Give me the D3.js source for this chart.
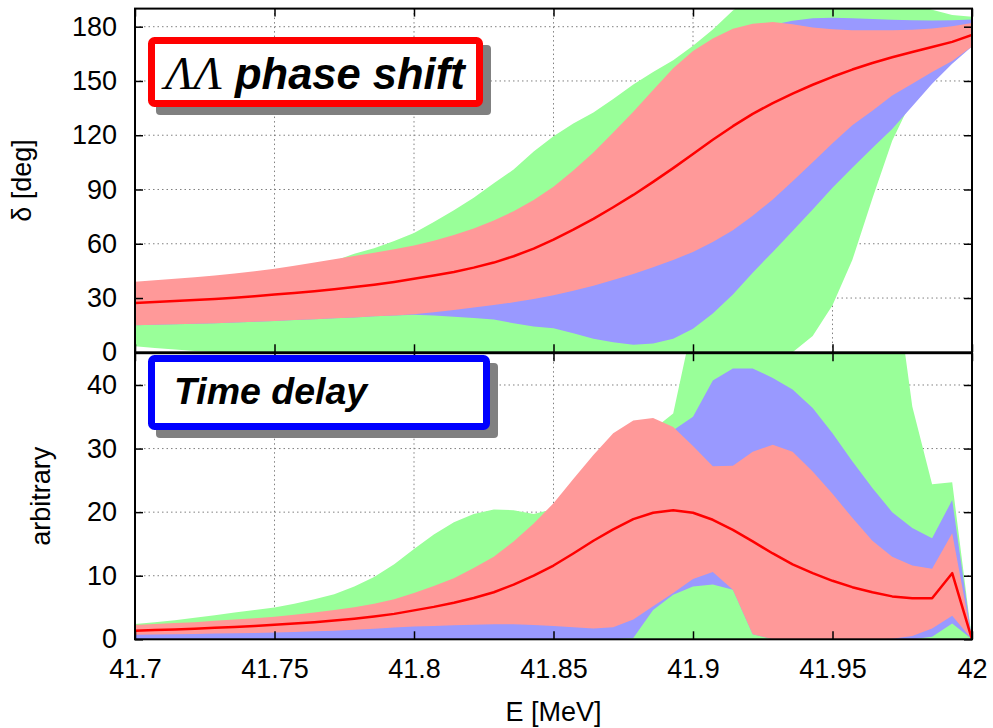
<!DOCTYPE html>
<html>
<head>
<meta charset="utf-8">
<script src="https://cdn.jsdelivr.net/npm/d3@7"></script>
<style>
  body { margin: 0; background: #fff; }
  svg text { font-family: "Liberation Sans", Arial, Helvetica, sans-serif; }
</style>
</head>
<body>
<svg id="chart" width="993" height="728"></svg>
<script>
// Energy grid [MeV]
const energy = [41.7, 41.7071, 41.7143, 41.7214, 41.7286, 41.7357, 41.7429, 41.75, 41.7571, 41.7643,
  41.7714, 41.7786, 41.7857, 41.7929, 41.8, 41.8071, 41.8143, 41.8214, 41.8286, 41.8357,
  41.8429, 41.85, 41.8571, 41.8643, 41.8714, 41.8786, 41.8857, 41.8929, 41.9, 41.9071,
  41.9143, 41.9214, 41.9286, 41.9357, 41.9429, 41.95, 41.9571, 41.9643, 41.9714, 41.9786,
  41.9857, 41.9929, 42.0];

// ΛΛ phase shift [deg]: central value and three uncertainty bands
const phaseMid = [27.3, 27.8, 28.3, 28.9, 29.5, 30.2, 31.0, 31.9, 32.8, 33.8,
  34.9, 36.1, 37.4, 38.9, 40.6, 42.4, 44.4, 46.8, 49.6, 53.1,
  57.3, 62.3, 67.8, 73.8, 80.2, 87.0, 94.2, 101.8, 109.6, 117.5,
  125.0, 131.8, 137.8, 143.0, 147.9, 152.3, 156.3, 159.9, 163.1, 166.0,
  168.8, 171.6, 175.4];
const phaseRedLo = [15.0, 15.2, 15.5, 15.8, 16.1, 16.5, 16.9, 17.3, 17.8, 18.3,
  18.8, 19.3, 19.9, 20.4, 21.0, 22.2, 23.4, 24.7, 26.1, 27.6,
  29.4, 31.6, 34.0, 36.8, 40.0, 43.3, 47.0, 51.0, 55.5, 61.0,
  67.5, 75.5, 84.5, 94.5, 105.0, 115.5, 125.5, 133.5, 142.0, 148.5,
  155.0, 161.0, 169.0];
const phaseRedHi = [39.0, 39.8, 40.6, 41.5, 42.5, 43.6, 44.8, 46.2, 47.8, 49.6,
  51.5, 53.3, 55.1, 57.0, 59.0, 61.6, 64.8, 68.5, 72.8, 78.0,
  84.2, 91.5, 100.5, 110.5, 121.5, 133.0, 145.0, 157.0, 166.5, 173.5,
  178.8, 181.6, 182.6, 181.3, 179.6, 178.6, 178.1, 178.0, 178.0, 178.3,
  179.0, 180.3, 182.0];
const phaseBlueLo = [15.0, 15.2, 15.5, 15.8, 16.1, 16.5, 16.9, 17.3, 17.8, 18.3,
  18.8, 19.3, 19.9, 20.4, 20.8, 20.3, 19.7, 19.0, 18.1, 16.1,
  14.2, 13.3, 10.6, 7.5, 5.5, 4.2, 4.8, 7.5, 13.0, 21.5,
  32.0, 44.0, 55.5, 67.0, 79.0, 91.0, 102.0, 113.0, 123.5, 136.0,
  148.5, 159.5, 169.0];
const phaseBlueHi = [37.5, 38.3, 39.1, 40.0, 41.0, 42.1, 43.3, 44.7, 46.3, 48.1,
  50.0, 51.8, 53.6, 55.5, 57.5, 60.1, 63.3, 67.0, 71.3, 76.5,
  82.7, 90.0, 99.0, 109.0, 120.0, 131.5, 143.5, 155.5, 165.0, 172.0,
  177.3, 180.1, 181.1, 183.3, 184.6, 185.0, 184.7, 184.2, 183.8, 183.5,
  183.4, 183.6, 184.0];
const phaseGreenLo = [3.3, 2.4, 1.5, 0.7, 0.1, 0, 0, 0, 0, 0,
  0, 0, 0, 0, 0, 0, 0, 0, 0, 0,
  0, 0, 0, 0, 0, 0, 0, 0, 0, 0,
  0, 0, 0, 0, 9.0, 26.0, 51.0, 85.0, 117.0, 140.0,
  155.0, 164.5, 169.0];
const phaseGreenHi = [38.0, 38.8, 39.6, 40.5, 41.5, 42.6, 43.8, 45.2, 46.8, 48.6,
  50.5, 54.5, 57.5, 61.5, 66.0, 72.0, 78.5, 85.5, 93.5, 101.0,
  111.0, 119.5, 126.5, 132.5, 140.0, 148.0, 155.0, 161.5, 169.5, 178.5,
  189.0, 196.0, 200.0, 202.0, 203.0, 203.0, 202.0, 200.0, 197.0, 193.0,
  189.3, 186.5, 185.5];

// Time delay [arbitrary units]: central value and three uncertainty bands
const delayMid = [1.35, 1.45, 1.55, 1.65, 1.8, 1.95, 2.1, 2.3, 2.5, 2.7,
  2.95, 3.25, 3.6, 4.0, 4.55, 5.1, 5.75, 6.5, 7.4, 8.6,
  10.0, 11.6, 13.5, 15.5, 17.3, 18.9, 19.9, 20.3, 19.9, 18.8,
  17.2, 15.4, 13.5, 11.8, 10.4, 9.2, 8.2, 7.4, 6.75, 6.45,
  6.45, 10.4, 0];
const delayRedLo = [0.7, 0.75, 0.8, 0.85, 0.9, 0.95, 1.0, 1.05, 1.15, 1.25,
  1.35, 1.5, 1.65, 1.85, 2.0, 2.1, 2.2, 2.3, 2.35, 2.35,
  2.25, 2.1, 1.9, 1.7, 1.9, 3.1, 5.2, 7.3, 9.5, 10.6,
  7.8, 0.8, 0, 0, 0, 0, 0, 0, 0.1, 0.5,
  1.7, 3.7, 0];
const delayRedHi = [2.25, 2.4, 2.55, 2.7, 2.9, 3.1, 3.3, 3.55, 3.85, 4.2,
  4.6, 5.05, 5.6, 6.3, 7.3, 8.4, 9.6, 11.2, 13.0, 15.4,
  18.2, 21.4, 25.2, 29.0, 32.4, 34.4, 34.8, 33.4, 30.4, 27.2,
  27.3, 29.5, 30.6, 29.5, 26.4, 22.9, 19.1, 15.5, 13.0, 11.6,
  11.1, 16.7, 0];
const delayBlueLo = [0, 0, 0, 0, 0, 0, 0, 0, 0, 0,
  0, 0, 0, 0, 0, 0, 0, 0, 0, 0,
  0, 0, 0, 0, 0, 0.2, 4.6, 7.0, 8.3, 8.6,
  7.8, 0.8, 0, 0, 0, 0, 0, 0, 0, 0,
  0.4, 2.5, 0];
const delayBlueHi = [1.9, 2.0, 2.1, 2.2, 2.4, 2.6, 2.8, 3.0, 3.3, 3.6,
  4.0, 4.4, 4.9, 5.5, 6.4, 7.4, 8.5, 10.0, 11.7, 14.0,
  16.7, 19.8, 23.5, 27.2, 30.5, 32.5, 33.0, 32.9, 35.0, 40.7,
  42.6, 42.6, 41.1, 39.3, 36.4, 32.4, 28.0, 23.8, 20.0, 17.5,
  15.9, 21.9, 0];
const delayGreenLo = [0, 0, 0, 0, 0, 0, 0, 0, 0, 0,
  0, 0, 0, 0, 0, 0, 0, 0, 0, 0,
  0, 0, 0, 0, 0, 0, 0, 0, 0, 0,
  0, 0, 0, 0, 0, 0, 0, 0, 0, 0,
  0, 0, 0];
const delayGreenHi = [2.4, 2.7, 3.0, 3.4, 3.8, 4.2, 4.6, 5.0, 5.6, 6.3,
  7.1, 8.3, 9.8, 11.8, 14.2, 16.5, 18.4, 19.7, 20.4, 20.3,
  19.7, 20.5, 23.0, 26.5, 30.0, 33.0, 33.0, 35.5, 50.0, 56.0,
  62.0, 66.0, 68.0, 68.0, 67.0, 66.0, 65.0, 63.0, 60.0, 36.6,
  24.4, 24.7, 0];

// Tick values and labels
const xTicks = [41.7, 41.75, 41.8, 41.85, 41.9, 41.95, 42];
const xTickLabels = ["41.7", "41.75", "41.8", "41.85", "41.9", "41.95", "42"];
const phaseTicks = [0, 30, 60, 90, 120, 150, 180];
const delayTicks = [0, 10, 20, 30, 40];

const COLORS = { green: "#99ff99", blue: "#9999ff", red: "#ff9999", line: "#ff0000" };

const svg = d3.select("#chart");
const x = d3.scaleLinear().domain([41.7, 42]).range([135, 972]);

const panels = [
  { id: "phase", y: d3.scaleLinear().domain([0, 190]).range([352.3, 8.6]),
    ticks: phaseTicks, mid: phaseMid,
    bands: [[phaseGreenLo, phaseGreenHi, COLORS.green], [phaseBlueLo, phaseBlueHi, COLORS.blue], [phaseRedLo, phaseRedHi, COLORS.red]],
    title: "δ [deg]", titleX: 31 },
  { id: "delay", y: d3.scaleLinear().domain([0, 45]).range([639.3, 353.2]),
    ticks: delayTicks, mid: delayMid,
    bands: [[delayGreenLo, delayGreenHi, COLORS.green], [delayBlueLo, delayBlueHi, COLORS.blue], [delayRedLo, delayRedHi, COLORS.red]],
    title: "arbitrary", titleX: 50 }
];

const FONT = 27;
const idx = d3.range(energy.length);

panels.forEach((p, pi) => {
  const y = p.y;
  const top = y.range()[1], bottom = y.range()[0];
  const left = x.range()[0], right = x.range()[1];
  const g = svg.append("g");

  svg.append("clipPath").attr("id", "clip-" + p.id)
    .append("rect").attr("x", left).attr("y", top).attr("width", right - left).attr("height", bottom - top);

  // dotted grid
  const grid = g.append("g").attr("stroke", "#808080").attr("stroke-width", 1).attr("stroke-dasharray", "1.5,3");
  grid.selectAll("line.h").data(p.ticks.filter(t => t > y.domain()[0] && t < y.domain()[1])).join("line")
    .attr("x1", left).attr("x2", right).attr("y1", d => y(d)).attr("y2", d => y(d));
  grid.selectAll("line.v").data(xTicks.slice(1, -1)).join("line")
    .attr("x1", d => x(d)).attr("x2", d => x(d)).attr("y1", top).attr("y2", bottom);

  // uncertainty bands
  const plot = g.append("g").attr("clip-path", "url(#clip-" + p.id + ")");
  p.bands.forEach(([lo, hi, color]) => {
    const area = d3.area().x(i => x(energy[i])).y0(i => y(lo[i])).y1(i => y(hi[i]));
    plot.append("path").attr("d", area(idx)).attr("fill", color);
  });
  // central curve
  const line = d3.line().x(i => x(energy[i])).y(i => y(p.mid[i]));
  plot.append("path").attr("d", line(idx)).attr("fill", "none")
    .attr("stroke", COLORS.line).attr("stroke-width", 2.5).attr("stroke-linejoin", "round");

  // axes with inward ticks
  const styleAxis = sel => {
    sel.select(".domain").remove();
    sel.selectAll(".tick line").attr("stroke", "#000").attr("stroke-width", 1.5);
    sel.selectAll(".tick text").attr("fill", "#000").style("font-size", FONT + "px");
  };
  g.append("g").attr("transform", `translate(${left},0)`)
    .call(d3.axisLeft(y).tickValues(p.ticks).tickSize(-8).tickPadding(18).tickFormat(d3.format("d")))
    .call(styleAxis);
  g.append("g").attr("transform", `translate(${right},0)`)
    .call(d3.axisRight(y).tickValues(p.ticks).tickSize(-8).tickFormat(""))
    .call(styleAxis);
  g.append("g").attr("transform", `translate(0,${top})`)
    .call(d3.axisTop(x).tickValues(xTicks).tickSize(-8).tickFormat(""))
    .call(styleAxis);
  const isLast = pi === panels.length - 1;
  g.append("g").attr("transform", `translate(0,${bottom})`)
    .call(d3.axisBottom(x).tickValues(xTicks).tickSize(-8).tickPadding(20)
      .tickFormat(isLast ? ((d, i) => xTickLabels[i]) : ""))
    .call(styleAxis);

  // frame
  g.append("rect").attr("x", left).attr("y", top).attr("width", right - left).attr("height", bottom - top)
    .attr("fill", "none").attr("stroke", "#000").attr("stroke-width", 2);

  // y-axis title
  g.append("text")
    .attr("transform", `translate(${p.titleX},${(top + bottom) / 2}) rotate(-90)`)
    .attr("text-anchor", "middle").style("font-size", FONT + "px").text(p.title);
});

// x-axis title
svg.append("text").attr("x", (x.range()[0] + x.range()[1]) / 2).attr("y", 721)
  .attr("text-anchor", "middle").style("font-size", FONT + "px").text("E [MeV]");

// labelled boxes with drop shadow
function labelBox(x0, y0, x1, y1, color) {
  const sw = 7;
  svg.append("rect").attr("x", x0 + 8).attr("y", y0 + 8).attr("width", x1 - x0).attr("height", y1 - y0)
    .attr("rx", 4).attr("fill", "#808080");
  svg.append("rect").attr("x", x0 + sw / 2).attr("y", y0 + sw / 2)
    .attr("width", x1 - x0 - sw).attr("height", y1 - y0 - sw).attr("rx", 3)
    .attr("fill", "#fff").attr("stroke", color).attr("stroke-width", sw);
}

labelBox(148, 37, 483, 107, "#ff0000");
svg.append("text").attr("x", 165).attr("y", 89)
  .style("font-family", '"Liberation Serif", "Times New Roman", serif')
  .style("font-style", "italic").style("font-size", "47px").text("ΛΛ");
svg.append("text").attr("x", 235).attr("y", 89)
  .style("font-style", "italic").style("font-weight", "bold").style("font-size", "43.5px").text("phase shift");

labelBox(148, 355, 490, 430, "#0000ff");
svg.append("text").attr("x", 174).attr("y", 404)
  .style("font-style", "italic").style("font-weight", "bold").style("font-size", "37.5px").text("Time delay");
</script>
</body>
</html>
